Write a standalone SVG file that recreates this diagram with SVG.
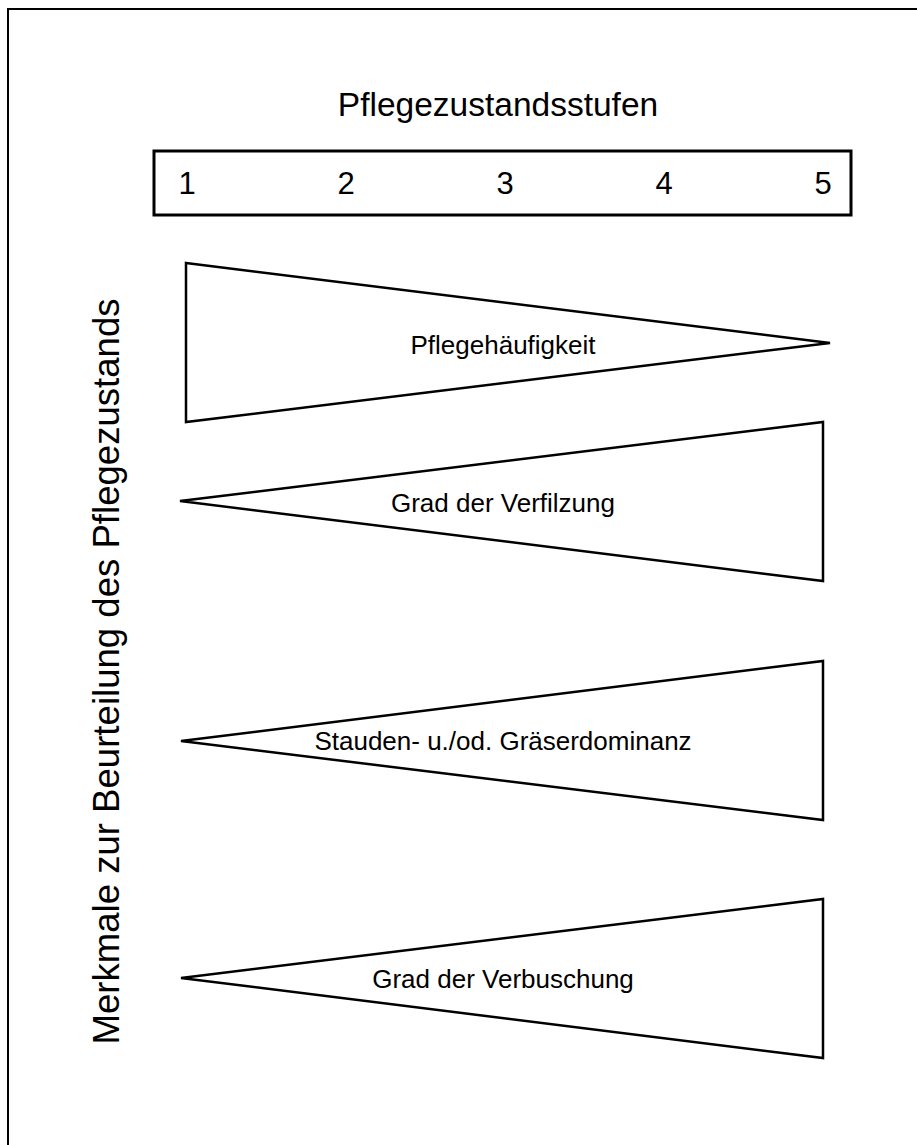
<svg xmlns="http://www.w3.org/2000/svg" width="917" height="1145" viewBox="0 0 917 1145">
<style>
text{font-family:"Liberation Sans",Arial,sans-serif;fill:#000}
.tri{fill:#fff;stroke:#000;stroke-width:2.5;stroke-linejoin:miter}
.lbl{font-size:26px;text-anchor:middle}
.num{font-size:31px;text-anchor:middle}
</style>
<rect x="0" y="0" width="917" height="1145" fill="#fff"/>
<rect x="8" y="9" width="930" height="1160" fill="none" stroke="#000" stroke-width="2"/>
<g id="title"><text x="498" y="116" font-size="33.5" text-anchor="middle">Pflegezustandsstufen</text></g>
<g id="scale">
<rect x="154" y="151" width="697" height="64" fill="none" stroke="#000" stroke-width="3"/>
<text class="num" x="187" y="194">1</text>
<text class="num" x="346" y="194">2</text>
<text class="num" x="505" y="194">3</text>
<text class="num" x="664" y="194">4</text>
<text class="num" x="823" y="194">5</text>
</g>
<g id="axis"><text transform="translate(119,671.5) rotate(-90)" font-size="36.6" text-anchor="middle">Merkmale zur Beurteilung des Pflegezustands</text></g>
<g id="t1"><polygon class="tri" points="186,263 830,343 186,422"/><text class="lbl" x="503" y="354">Pflegehäufigkeit</text></g>
<g id="t2"><polygon class="tri" points="180,501 823,422 823,581"/><text class="lbl" x="503" y="512">Grad der Verfilzung</text></g>
<g id="t3"><polygon class="tri" points="181,741 823,661 823,820"/><text class="lbl" x="503" y="750">Stauden- u./od. Gräserdominanz</text></g>
<g id="t4"><polygon class="tri" points="181,978 823,899 823,1058"/><text class="lbl" x="503" y="988">Grad der Verbuschung</text></g>
<g id="connectors"/>
</svg>
